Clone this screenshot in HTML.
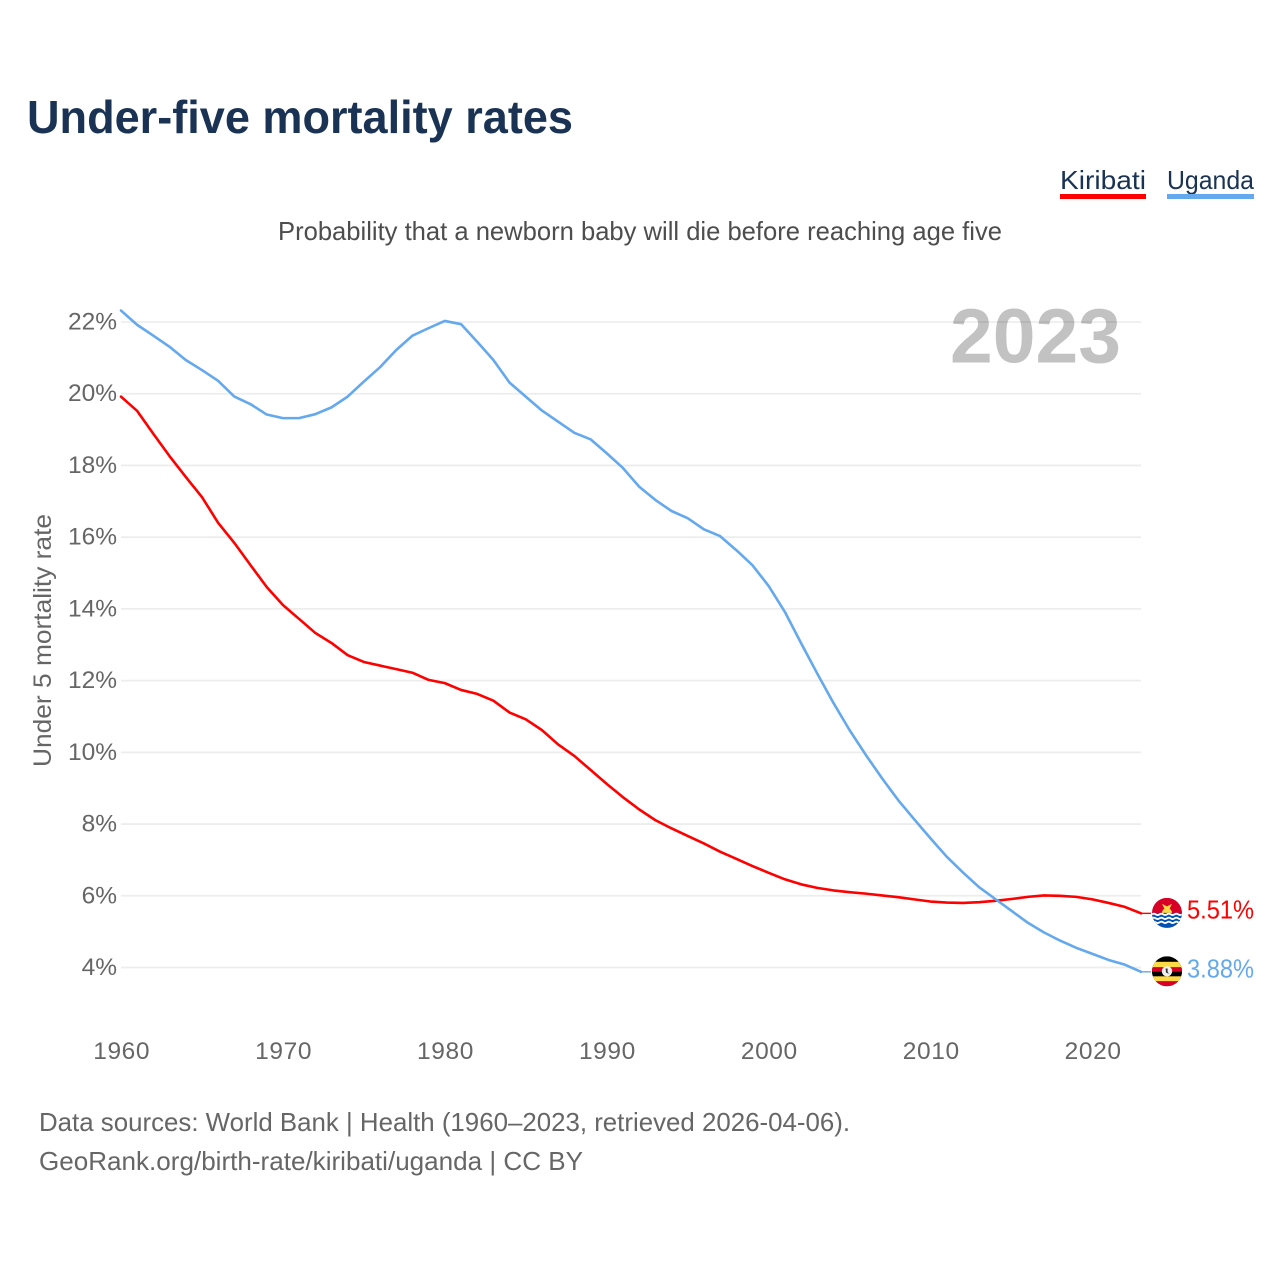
<!DOCTYPE html>
<html lang="en">
<head>
<meta charset="utf-8">
<title>Under-five mortality rates</title>
<style>
html,body{margin:0;padding:0;background:#fff;width:1280px;height:1280px;overflow:hidden}
svg{display:block;font-family:"Liberation Sans",sans-serif}
</style>
</head>
<body>
<svg id="chart" width="1280" height="1280" viewBox="0 0 1280 1280" xmlns="http://www.w3.org/2000/svg">
  <defs>
    <clipPath id="flag-clip-k"><circle cx="0" cy="0" r="15"/></clipPath>
    <clipPath id="flag-clip-u"><circle cx="0" cy="0" r="15"/></clipPath>
  </defs>
  <rect width="1280" height="1280" fill="#fff"/>
  <text x="27" y="133" font-size="46" font-weight="700" fill="#1a3354" textLength="546" lengthAdjust="spacingAndGlyphs">Under-five mortality rates</text>

  <g>
    <text x="1060" y="189" font-size="26" fill="#1a3354" textLength="86" lengthAdjust="spacingAndGlyphs">Kiribati</text>
    <rect x="1060" y="194" width="86" height="5" fill="#ff0000"/>
  </g>
  <g>
    <text x="1167" y="189" font-size="26" fill="#1a3354" textLength="87" lengthAdjust="spacingAndGlyphs">Uganda</text>
    <rect x="1167" y="194" width="87" height="5" fill="#64a8ee"/>
  </g>

  <text x="640" y="240" font-size="26" fill="#4d4d4d" text-anchor="middle" textLength="724" lengthAdjust="spacingAndGlyphs">Probability that a newborn baby will die before reaching age five</text>

  <text x="1121" y="362.7" font-size="77" font-weight="700" fill="#c2c2c2" text-anchor="end" textLength="171" lengthAdjust="spacingAndGlyphs">2023</text>

  <g id="grid"></g>
  <g id="y-ticks"></g>
  <g id="x-ticks"></g>

  <text transform="translate(51,640.5) rotate(-90)" font-size="25" fill="#666" text-anchor="middle" textLength="253" lengthAdjust="spacingAndGlyphs">Under 5 mortality rate</text>

  <g id="series"></g>

  <g id="flag-kiribati">
    <g clip-path="url(#flag-clip-k)">
      <rect x="-15" y="-15" width="30" height="30" fill="#d80027"/>
      <circle cx="0" cy="0" r="5" fill="#ffda44"/>
      <path d="M-5,-9 L0,-6.5 L5,-9 L2.5,-4 L-2.5,-4 Z" fill="#ffda44"/>
      <rect x="-15" y="0" width="30" height="15" fill="#0052b4"/>
      <path d="M-15,1.5 q1.9,-1.4 3.75,0 t3.75,0 t3.75,0 t3.75,0 t3.75,0 t3.75,0 t3.75,0 t3.75,0 M-15,5.5 q1.9,-1.4 3.75,0 t3.75,0 t3.75,0 t3.75,0 t3.75,0 t3.75,0 t3.75,0 t3.75,0 M-15,9.5 q1.9,-1.4 3.75,0 t3.75,0 t3.75,0 t3.75,0 t3.75,0 t3.75,0 t3.75,0 t3.75,0" fill="none" stroke="#fff" stroke-width="1.8"/>
    </g>
  </g>
  <g id="flag-uganda">
    <g clip-path="url(#flag-clip-u)">
      <rect x="-15" y="-15" width="30" height="30" fill="#000"/>
      <rect x="-15" y="-9.5" width="30" height="5.5" fill="#ffda44"/>
      <rect x="-15" y="-4" width="30" height="4.5" fill="#d80027"/>
      <rect x="-15" y="0.5" width="30" height="4.5" fill="#000"/>
      <rect x="-15" y="5" width="30" height="5" fill="#ffda44"/>
      <rect x="-15" y="10" width="30" height="5" fill="#d80027"/>
      <circle cx="0" cy="0" r="5.2" fill="#f0f0f0"/>
      <path d="M-1.4,-2.8 L0.6,-2.8 L0.6,0.5 L2,2.6 L-1,1.2 Z" fill="#333"/>
    </g>
  </g>
  <text id="value-kiribati" x="1187" font-size="26" fill="#ff0000" textLength="67" lengthAdjust="spacingAndGlyphs"></text>
  <text id="value-uganda" x="1187" font-size="26" fill="#64a8ee" textLength="67" lengthAdjust="spacingAndGlyphs"></text>

  <text x="39" y="1131" font-size="26" fill="#666" textLength="811" lengthAdjust="spacingAndGlyphs">Data sources: World Bank | Health (1960–2023, retrieved 2026-04-06).</text>
  <text x="39" y="1170" font-size="26" fill="#666" textLength="544" lengthAdjust="spacingAndGlyphs">GeoRank.org/birth-rate/kiribati/uganda | CC BY</text>
</svg>
<script>
var yTicks = [4, 6, 8, 10, 12, 14, 16, 18, 20, 22];
var xTicks = [1960, 1970, 1980, 1990, 2000, 2010, 2020];
var startYear = 1960;
var endYear = 2023;
var kiribati = [19.92,19.52,18.88,18.26,17.68,17.12,16.40,15.84,15.22,14.61,14.11,13.72,13.33,13.05,12.71,12.52,12.42,12.32,12.22,12.02,11.93,11.74,11.63,11.44,11.11,10.92,10.62,10.22,9.90,9.51,9.12,8.75,8.41,8.11,7.88,7.67,7.46,7.23,7.03,6.83,6.64,6.46,6.32,6.22,6.15,6.10,6.06,6.01,5.96,5.90,5.84,5.81,5.80,5.82,5.86,5.91,5.97,6.01,6.00,5.97,5.90,5.80,5.69,5.51];
var uganda = [22.32,21.92,21.62,21.31,20.94,20.66,20.36,19.92,19.71,19.42,19.32,19.32,19.43,19.62,19.92,20.34,20.74,21.22,21.62,21.83,22.03,21.94,21.45,20.94,20.31,19.92,19.53,19.22,18.91,18.73,18.34,17.93,17.41,17.04,16.73,16.53,16.22,16.03,15.64,15.22,14.64,13.92,13.05,12.20,11.38,10.62,9.93,9.28,8.67,8.13,7.60,7.09,6.65,6.24,5.91,5.58,5.25,4.98,4.75,4.55,4.38,4.21,4.08,3.88];

var NS = 'http://www.w3.org/2000/svg';
function xScale(year) { return 121 + (year - startYear) * (1141 - 121) / (endYear - startYear); }
function yScale(v) { return 967.5 - (v - 4) * 35.86; }
function make(tag, attrs, parent) {
  var el = document.createElementNS(NS, tag);
  for (var k in attrs) el.setAttribute(k, attrs[k]);
  parent.appendChild(el);
  return el;
}

var gridG = document.getElementById('grid');
var yG = document.getElementById('y-ticks');
yTicks.forEach(function (t) {
  var line = make('line', { x1: 121, x2: 1141, y1: yScale(t), y2: yScale(t), stroke: '#000', 'stroke-opacity': 0.07, 'stroke-width': 1.8 }, gridG);
  
  
  var label = make('text', { x: 117, y: yScale(t) + 7.5, 'font-size': 24.5, fill: '#666', 'text-anchor': 'end' }, yG);
  label.textContent = t + '%';
  
  
});

var xG = document.getElementById('x-ticks');
xTicks.forEach(function (t) {
  var label = make('text', { x: xScale(t) + 0.7, y: 1059, 'font-size': 24.5, fill: '#666', 'text-anchor': 'middle', 'letter-spacing': 0.6 }, xG);
  label.textContent = String(t);
  
  
});

function linePath(values) {
  var pts = values.map(function (v, i) { return xScale(startYear + i).toFixed(2) + ',' + yScale(v).toFixed(2); });
  return 'M' + pts.join('L');
}
var seriesG = document.getElementById('series');
function drawSeries(values, color, name) {
  var p = make('path', { d: linePath(values), fill: 'none', stroke: color, 'stroke-width': 2.6, 'stroke-linejoin': 'round', 'stroke-linecap': 'round' }, seriesG);
  
  
  var last = values[values.length - 1];
  var stub = make('line', { x1: xScale(endYear), x2: xScale(endYear) + 10, y1: yScale(last), y2: yScale(last), stroke: color, 'stroke-width': 1.4 }, seriesG);
  
  
}
drawSeries(kiribati, '#ff0000', 'line-kiribati');
drawSeries(uganda, '#64a8ee', 'line-uganda');

function placeEnd(values, flagId, labelId, flagOffset, labelOffset) {
  var last = values[values.length - 1];
  var y = yScale(last);
  document.getElementById(flagId).setAttribute('transform', 'translate(1167,' + (y + flagOffset) + ')');
  var t = document.getElementById(labelId);
  t.setAttribute('y', y + labelOffset);
  t.textContent = last.toFixed(2) + '%';
}
placeEnd(kiribati, 'flag-kiribati', 'value-kiribati', -0.5, 5);
placeEnd(uganda, 'flag-uganda', 'value-uganda', -0.5, 5.5);
</script>
</body>
</html>
